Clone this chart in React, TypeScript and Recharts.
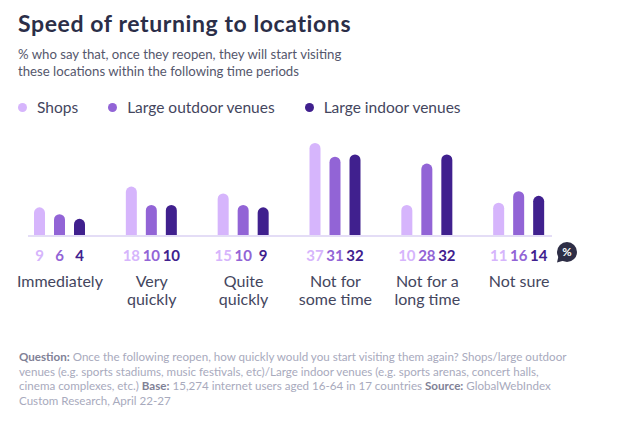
import React from 'react';
import { BarChart, Bar, XAxis, YAxis, Legend, LabelList, ReferenceLine } from 'recharts';

// data (% of respondents)
const CATEGORIES = ['Immediately', 'Very\nquickly', 'Quite\nquickly', 'Not for\nsome time', 'Not for a\nlong time', 'Not sure'];
const SHOPS = [9, 18, 15, 37, 10, 11];
const OUTDOOR = [6, 10, 10, 31, 28, 16];
const INDOOR = [4, 10, 9, 32, 32, 14];
const SERIES_NAMES = ['Shops', 'Large outdoor venues', 'Large indoor venues'];

const C_SHOPS = '#d6b5fc';
const C_OUTDOOR = '#9264d6';
const C_INDOOR = '#40208e';
const C_TITLE = '#2b2e48';
const C_TEXT = '#44465e';
const C_FOOT = '#a8aabd';
const C_FOOT_BOLD = '#7f8196';
const FONT = 'Lato, "Open Sans", sans-serif';

const CAP = 7; // rounded cap sits on top of the value

const data = CATEGORIES.map((c, i) => ({
  cat: c,
  shops: SHOPS[i],
  outdoor: OUTDOOR[i],
  indoor: INDOOR[i],
}));

function PillBar(props: any) {
  const { x, y, width, height, fill } = props;
  if (height == null || width == null) return null;
  const r = width / 2;
  const top = y - CAP;
  const bottom = y + height;
  return (
    <path
      d={`M${x},${bottom} L${x},${top + r} A${r},${r} 0 0 1 ${x + width},${top + r} L${x + width},${bottom} Z`}
      fill={fill}
    />
  );
}

function CategoryTick({ x, y, payload }: any) {
  const lines = String(payload.value).split('\n');
  return (
    <text x={x} y={y} textAnchor="middle" fill={C_TEXT} fontSize={16} fontFamily={FONT}>
      {lines.map((l, i) => (
        <tspan key={i} x={x} dy={i === 0 ? 52 : 17.5}>{l}</tspan>
      ))}
    </text>
  );
}

function LegendContent({ payload }: any) {
  const items = [...(payload || [])].sort((a: any, b: any) => SERIES_NAMES.indexOf(a.value) - SERIES_NAMES.indexOf(b.value));
  return (
    <div style={{ display: 'flex', alignItems: 'center', fontFamily: FONT, fontSize: 15.5, lineHeight: '20px', color: C_TEXT }}>
      {items.map((e: any, i: number) => (
        <div key={i} style={{ display: 'flex', alignItems: 'center', marginRight: 26 }}>
          <span style={{ width: 9, height: 9, borderRadius: '50%', background: e.color, marginRight: 10, marginLeft: 4 }} />
          <span>{e.value}</span>
        </div>
      ))}
    </div>
  );
}

function PercentBadge() {
  return (
    <svg width={26} height={26} style={{ position: 'absolute', left: 555, top: 240 }}>
      <circle cx={12} cy={12} r={10} fill="#2e2e46" />
      <path d="M3.5,16 L2,22.5 L9,20.5 Z" fill="#2e2e46" />
      <text x={12} y={16} textAnchor="middle" fill="#ffffff" fontSize={11.5} fontWeight={700} fontFamily={FONT}>%</text>
    </svg>
  );
}

export default function App() {
  return (
    <div style={{ position: 'absolute', left: 0, top: 0, width: 639, height: 443, background: '#ffffff', fontFamily: FONT, overflow: 'hidden' }}>
      <div style={{ position: 'absolute', left: 18, top: 11, fontSize: 23, lineHeight: '24px', fontWeight: 700, letterSpacing: 0.6, color: C_TITLE, whiteSpace: 'nowrap' }}>
        Speed of returning to locations
      </div>
      <div style={{ position: 'absolute', left: 18, top: 46, fontSize: 13.2, lineHeight: '17px', color: '#55576c', whiteSpace: 'nowrap' }}>
        % who say that, once they reopen, they will start visiting<br />
        these locations within the following time periods
      </div>

      <div style={{ position: 'absolute', left: 0, top: 0 }}>
        <BarChart width={639} height={320} data={data} margin={{ top: 143, right: 74, left: 14, bottom: 5 }} barSize={11} barGap={9}>
          <XAxis dataKey="cat" axisLine={false} tickLine={false} tickSize={0} tickMargin={0} height={80} interval={0} tick={<CategoryTick />} />
          <YAxis hide domain={[0, 40]} />
          <ReferenceLine
            y={0}
            stroke="#e7e1f7"
            strokeWidth={2}
            shape={(p: any) => <line x1={p.x1 + 14} y1={p.y1 + 1} x2={p.x2 - 13} y2={p.y2 + 1} stroke="#e4ddf6" strokeWidth={2} />}
          />
          <Legend
            verticalAlign="middle"
            align="center"
            content={<LegendContent />}
            wrapperStyle={{ top: 97, left: 14, width: 560 }}
          />
          <Bar dataKey="shops" name={SERIES_NAMES[0]} fill={C_SHOPS} shape={<PillBar />} isAnimationActive={false}>
            <LabelList dataKey="shops" position="bottom" offset={15} fill={C_SHOPS} fontSize={15} fontWeight={700} fontFamily={FONT} />
          </Bar>
          <Bar dataKey="outdoor" name={SERIES_NAMES[1]} fill={C_OUTDOOR} shape={<PillBar />} isAnimationActive={false}>
            <LabelList dataKey="outdoor" position="bottom" offset={15} fill={C_OUTDOOR} fontSize={15} fontWeight={700} fontFamily={FONT} />
          </Bar>
          <Bar dataKey="indoor" name={SERIES_NAMES[2]} fill={C_INDOOR} shape={<PillBar />} isAnimationActive={false}>
            <LabelList dataKey="indoor" position="bottom" offset={15} fill={C_INDOOR} fontSize={15} fontWeight={700} fontFamily={FONT} />
          </Bar>
        </BarChart>
      </div>

      <PercentBadge />

      <div style={{ position: 'absolute', left: 19, top: 350, fontSize: 11.6, lineHeight: '14.7px', color: C_FOOT, whiteSpace: 'nowrap' }}>
        <b style={{ color: C_FOOT_BOLD }}>Question:</b> Once the following reopen, how quickly would you start visiting them again? Shops/large outdoor<br />
        venues (e.g. sports stadiums, music festivals, etc)/Large indoor venues (e.g. sports arenas, concert halls,<br />
        cinema complexes, etc.) <b style={{ color: C_FOOT_BOLD }}>Base:</b> 15,274 internet users aged 16-64 in 17 countries <b style={{ color: C_FOOT_BOLD }}>Source:</b> GlobalWebIndex<br />
        Custom Research, April 22-27
      </div>
    </div>
  );
}
